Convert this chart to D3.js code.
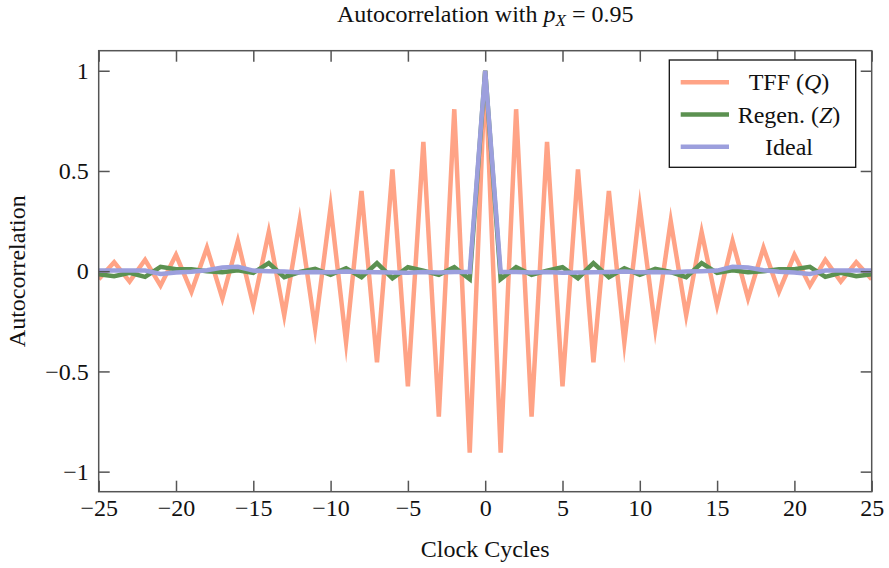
<!DOCTYPE html>
<html>
<head>
<meta charset="utf-8">
<script src="https://cdn.jsdelivr.net/npm/d3@7"></script>
<style>
    html, body { margin: 0; padding: 0; background: #fff; }
    svg { display: block; }
    svg text { font-family: "Liberation Serif", "Times New Roman", serif; fill: #111; }
</style>
</head>
<body>
<svg id="chart" width="889" height="568"></svg>
<script>

// Lags (clock cycles)
const lags = [-25, -24, -23, -22, -21, -20, -19, -18, -17, -16, -15, -14, -13, -12, -11, -10, -9, -8, -7, -6, -5, -4, -3, -2, -1,
              0, 1, 2, 3, 4, 5, 6, 7, 8, 9, 10, 11, 12, 13, 14, 15, 16, 17, 18, 19, 20, 21, 22, 23, 24, 25];

// TFF (Q) autocorrelation
const tffValues = [-0.040, 0.045, -0.052, 0.057, -0.072, 0.082, -0.102, 0.117, -0.135, 0.150, -0.170, 0.195, -0.220,
                   0.250, -0.285, 0.320, -0.355, 0.400, -0.455, 0.508, -0.575, 0.645, -0.725, 0.808, -0.905,
                   1.000,
                   -0.905, 0.808, -0.725, 0.645, -0.575, 0.508, -0.455, 0.400, -0.355, 0.320, -0.285, 0.250,
                   -0.220, 0.195, -0.170, 0.150, -0.135, 0.117, -0.102, 0.082, -0.072, 0.057, -0.052, 0.045, -0.040];

// Regen. (Z) autocorrelation
const regenValues = [-0.015, -0.025, -0.008, -0.028, 0.022, 0.010, 0.010, 0.000, -0.005, 0.005, -0.008, 0.040, -0.030,
                     -0.004, 0.012, -0.018, 0.015, -0.030, 0.040, -0.035, 0.020, 0.003, -0.018, 0.020, -0.040,
                     1.000,
                     -0.040, 0.020, -0.018, 0.003, 0.020, -0.035, 0.040, -0.030, 0.015, -0.018, 0.012, -0.004,
                     -0.030, 0.040, -0.008, 0.005, -0.005, 0.000, 0.010, 0.010, 0.022, -0.028, -0.008, -0.025, -0.015];

// Ideal autocorrelation
const idealValues = [0.004, 0.004, 0.004, 0.003, -0.014, -0.006, -0.003, 0.005, 0.018, 0.022, 0.003, 0.000, -0.002,
                     -0.006, -0.004, -0.005, -0.002, -0.004, -0.005, -0.007, -0.008, -0.004, -0.006, -0.004, -0.004,
                     1.000,
                     -0.004, -0.004, -0.006, -0.004, -0.008, -0.007, -0.005, -0.004, -0.002, -0.005, -0.004, -0.006,
                     -0.002, 0.000, 0.003, 0.022, 0.018, 0.005, -0.003, -0.006, -0.014, 0.003, 0.004, 0.004, 0.004];

// Tick values and labels
const xTicks = [-25, -20, -15, -10, -5, 0, 5, 10, 15, 20, 25];
const yTicks = [-1, -0.5, 0, 0.5, 1];
const yTickLabels = ["\u22121", "\u22120.5", "0", "0.5", "1"];

// Series names and colours
const seriesNames = ["TFF", "Regen.", "Ideal"];
const seriesSymbols = ["Q", "Z", null];
const seriesColours = ["#ffa386", "#5b9150", "#9c9fdd"];

// Get size
const width = 889,
      height = 568,
      margin = {top: 50.7, right: 17.3, bottom: 76.3, left: 98.7};
const innerWidth = width - margin.left - margin.right,
      innerHeight = height - margin.top - margin.bottom;
const fontFamily = "Liberation Serif, Times New Roman, serif";

const svg = d3.select("#chart");

// Create scales
const x = d3.scaleLinear().domain([-25, 25]).range([margin.left, margin.left + innerWidth]);
const y = d3.scaleLinear().domain([-1.1, 1.1]).range([margin.top + innerHeight, margin.top]);

// Clip lines to the axis box
svg.append("defs")
    .append("clipPath")
    .attr("id", "plot_clip")
    .append("rect")
    .attr("x", margin.left)
    .attr("y", margin.top)
    .attr("width", innerWidth)
    .attr("height", innerHeight);

// Add series lines
const line = d3.line()
    .x((d) => x(d[0]))
    .y((d) => y(d[1]));

const series = [tffValues, regenValues, idealValues];
svg.append("g")
    .attr("clip-path", "url(#plot_clip)")
    .selectAll("path")
    .data(series)
    .enter()
    .append("path")
    .attr("d", (vals) => line(lags.map((k, i) => [k, vals[i]])))
    .attr("fill", "none")
    .attr("stroke", (d, i) => seriesColours[i])
    .attr("stroke-width", 4.5)
    .attr("stroke-linejoin", "miter")
    .attr("stroke-miterlimit", 10);

// Axes (ticks pointing inward)
const axisColour = "#555";
const styleAxis = (g) => {
    g.attr("font-size", 24).attr("font-family", fontFamily);
    g.select(".domain").remove();
    g.selectAll(".tick line").attr("stroke", axisColour).attr("stroke-width", 1.5);
    g.selectAll(".tick text").attr("fill", "#111");
};
const dropLabels = (g) => g.selectAll(".tick text").remove();

svg.append("g")
    .attr("transform", `translate(0,${margin.top + innerHeight})`)
    .call(d3.axisBottom(x).tickValues(xTicks).tickSizeInner(-11).tickSizeOuter(0).tickPadding(7)
        .tickFormat((d) => d < 0 ? "\u2212" + Math.abs(d) : d))
    .call(styleAxis);

svg.append("g")
    .attr("transform", `translate(0,${margin.top})`)
    .call(d3.axisTop(x).tickValues(xTicks).tickSizeInner(-11).tickSizeOuter(0))
    .call(styleAxis)
    .call(dropLabels);

svg.append("g")
    .attr("transform", `translate(${margin.left},0)`)
    .call(d3.axisLeft(y).tickValues(yTicks).tickSizeInner(-11).tickSizeOuter(0).tickPadding(10)
        .tickFormat((d, i) => yTickLabels[i]))
    .call(styleAxis);

svg.append("g")
    .attr("transform", `translate(${margin.left + innerWidth},0)`)
    .call(d3.axisRight(y).tickValues(yTicks).tickSizeInner(-11).tickSizeOuter(0))
    .call(styleAxis)
    .call(dropLabels);

// Axis box
svg.append("rect")
    .attr("x", margin.left)
    .attr("y", margin.top)
    .attr("width", innerWidth)
    .attr("height", innerHeight)
    .attr("fill", "none")
    .attr("stroke", axisColour)
    .attr("stroke-width", 1.5);

// Title
const title = svg.append("text")
    .attr("x", margin.left + innerWidth / 2)
    .attr("y", 22)
    .attr("font-size", 24)
    .style("text-anchor", "middle");
title.append("tspan").text("Autocorrelation with ");
title.append("tspan").style("font-style", "italic").text("p");
title.append("tspan").style("font-style", "italic").attr("font-size", 17).attr("dy", 4).text("X");
title.append("tspan").attr("dy", -4).text(" = 0.95");

// Axis labels
svg.append("text")
    .attr("x", margin.left + innerWidth / 2)
    .attr("y", 557)
    .attr("font-size", 24)
    .style("text-anchor", "middle")
    .text("Clock Cycles");

svg.append("text")
    .attr("transform", `translate(25,${margin.top + innerHeight / 2}) rotate(-90)`)
    .attr("font-size", 24)
    .style("text-anchor", "middle")
    .text("Autocorrelation");

// Legend
const legend = svg.append("g").attr("id", "legend");
legend.append("rect")
    .attr("x", 669.3)
    .attr("y", 60)
    .attr("width", 186.4)
    .attr("height", 107.3)
    .attr("fill", "#fff")
    .attr("stroke", "#111")
    .attr("stroke-width", 1.3);

const rows = legend.selectAll(".entry")
    .data(seriesNames)
    .enter()
    .append("g")
    .classed("entry", true)
    .attr("transform", (d, i) => `translate(0,${82.3 + i * 32.2})`);

rows.append("line")
    .attr("x1", 680.7)
    .attr("x2", 729)
    .attr("stroke", (d, i) => seriesColours[i])
    .attr("stroke-width", 4.5);

const labels = rows.append("text")
    .attr("x", 789)
    .attr("dy", "0.34em")
    .attr("font-size", 24)
    .style("text-anchor", "middle");
labels.append("tspan").text((d, i) => seriesSymbols[i] ? d + " (" : d);
labels.filter((d, i) => seriesSymbols[i] !== null)
    .each(function (d) {
        const sym = seriesSymbols[seriesNames.indexOf(d)];
        d3.select(this).append("tspan").style("font-style", "italic").text(sym);
        d3.select(this).append("tspan").text(")");
    });

</script>
</body>
</html>
